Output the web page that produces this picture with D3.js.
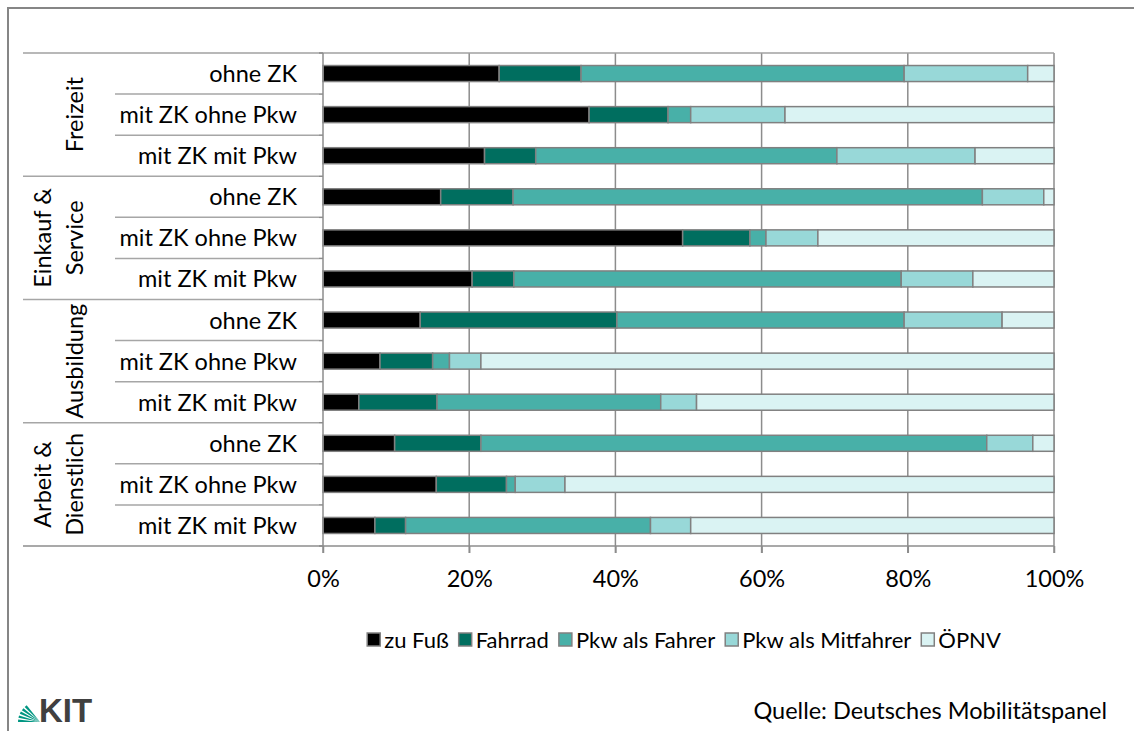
<!DOCTYPE html>
<html>
<head>
<meta charset="utf-8">
<script src="https://cdn.jsdelivr.net/npm/d3@7"></script>
<style>
  body { margin: 0; background: #fff; }
  svg { display: block; font-family: Lato, "Open Sans", sans-serif; }
</style>
</head>
<body>
<div class="canvas"></div>
<script>
// Chart size and plot area
const width = 1134;
const height = 731;
const plotLeft = 323;
const plotRight = 1054;
const plotTop = 53;
const plotBottom = 546;
const fontSize = 23.5;

// categories
const groups = [["Freizeit"], ["Einkauf &", "Service"], ["Ausbildung"], ["Arbeit &", "Dienstlich"]];
const subLabels = ["ohne ZK", "mit ZK ohne Pkw", "mit ZK mit Pkw"];
const modes = ["zu Fuß", "Fahrrad", "Pkw als Fahrer", "Pkw als Mitfahrer", "ÖPNV"];
const xTicks = [0, 20, 40, 60, 80, 100];

// series values in %, rows top to bottom
const zuFuss       = [24.1, 36.4, 22.1, 16.1, 49.2, 20.4, 13.3, 7.8, 4.9, 9.8, 15.5, 7.1];
const fahrrad      = [11.2, 10.8, 7.0, 9.9, 9.2, 5.7, 26.9, 7.2, 10.7, 11.8, 9.6, 4.2];
const pkwFahrer    = [44.2, 3.1, 41.2, 64.2, 2.2, 53.0, 39.3, 2.3, 30.6, 69.2, 1.2, 33.5];
const pkwMitfahrer = [16.9, 12.9, 18.9, 8.4, 7.1, 9.8, 13.4, 4.3, 4.9, 6.3, 6.8, 5.5];
const oepnv        = [3.6, 36.8, 10.8, 1.4, 32.3, 11.1, 7.1, 78.4, 48.9, 2.9, 66.9, 49.7];

const colors = ["#000000", "#006e5f", "#48b0a8", "#98d8d8", "#daf3f3"];
const series = [zuFuss, fahrrad, pkwFahrer, pkwMitfahrer, oepnv];

// table rows for d3.stack
const rows = zuFuss.map((_, i) => {
  const r = { idx: i };
  modes.forEach((m, k) => r[m] = series[k][i]);
  return r;
});
const stacked = d3.stack().keys(modes)(rows);

const x = d3.scaleLinear().domain([0, 100]).range([plotLeft, plotRight]);
const y = d3.scaleBand().domain(d3.range(rows.length)).range([plotTop, plotBottom]).paddingInner(0.61).paddingOuter(0.305);
const step = y.step();

const svg = d3.select(".canvas").append("svg")
  .attr("width", width)
  .attr("height", height);

// outer frame
svg.append("rect")
  .attr("x", 8).attr("y", 8)
  .attr("width", width + 20).attr("height", height + 20)
  .attr("fill", "none").attr("stroke", "#868686").attr("stroke-width", 2);

// vertical gridlines
svg.append("g")
  .selectAll("line")
  .data(xTicks.slice(1))
  .join("line")
    .attr("x1", d => x(d)).attr("x2", d => x(d))
    .attr("y1", plotTop).attr("y2", plotBottom + 7)
    .attr("stroke", "#8c8c8c").attr("stroke-width", 1.5);

// top border of plot
svg.append("line")
  .attr("x1", 23).attr("x2", plotRight)
  .attr("y1", plotTop).attr("y2", plotTop)
  .attr("stroke", "#a0a0a0").attr("stroke-width", 1.5);

// category table lines
const tableLines = svg.append("g").attr("stroke", "#a6a6a6").attr("stroke-width", 1.5);
d3.range(1, rows.length).forEach(i => {
  const yy = plotTop + i * step;
  const isGroup = i % 3 === 0;
  tableLines.append("line")
    .attr("x1", isGroup ? 23 : 115).attr("x2", plotLeft - 4)
    .attr("y1", yy).attr("y2", yy);
});

// bars
svg.append("g")
  .selectAll("g")
  .data(stacked)
  .join("g")
    .attr("fill", (d, i) => colors[i])
  .selectAll("rect")
  .data(d => d)
  .join("rect")
    .attr("x", d => x(d[0]))
    .attr("y", d => y(d.data.idx))
    .attr("width", d => x(d[1]) - x(d[0]))
    .attr("height", y.bandwidth())
    .attr("stroke", "#808080")
    .attr("stroke-width", 1.5);

// y axis with ticks at row boundaries
const gy = svg.append("g").attr("stroke", "#8c8c8c").attr("stroke-width", 1.5);
gy.append("line")
  .attr("x1", plotLeft).attr("x2", plotLeft)
  .attr("y1", plotTop).attr("y2", plotBottom + 7);
d3.range(0, rows.length + 1).forEach(i => {
  gy.append("line")
    .attr("x1", plotLeft - 4).attr("x2", plotLeft)
    .attr("y1", plotTop + i * step).attr("y2", plotTop + i * step);
});

// x axis
const gx = svg.append("g")
  .attr("transform", `translate(0, ${plotBottom})`)
  .call(d3.axisBottom(x).tickValues(xTicks).tickFormat(d => d + "%").tickSize(7).tickPadding(17));
gx.select(".domain").remove();
gx.selectAll(".tick line").attr("stroke", "#8c8c8c").attr("stroke-width", 1.5);
gx.selectAll(".tick text")
  .attr("font-family", "Lato, sans-serif")
  .attr("font-size", fontSize)
  .attr("fill", "#000");
svg.append("line")
  .attr("x1", 23).attr("x2", plotRight)
  .attr("y1", plotBottom).attr("y2", plotBottom)
  .attr("stroke", "#8c8c8c").attr("stroke-width", 1.5);

// row labels
svg.append("g")
  .selectAll("text")
  .data(rows)
  .join("text")
    .attr("x", 297)
    .attr("y", d => y(d.idx) + y.bandwidth() / 2)
    .attr("dy", "0.36em")
    .attr("text-anchor", "end")
    .attr("font-size", fontSize)
    .text(d => subLabels[d.idx % 3]);

// group labels (rotated)
groups.forEach((g, gi) => {
  const cy = plotTop + (gi * 3 + 1.5) * step;
  const t = svg.append("text")
    .attr("transform", `translate(${g.length === 1 ? 83 : 51}, ${cy}) rotate(-90)`)
    .attr("text-anchor", "middle")
    .attr("font-size", fontSize);
  g.forEach((line, li) => {
    t.append("tspan").attr("x", 0).attr("dy", li === 0 ? 0 : 32).text(line);
  });
});

// legend
const legend = svg.append("g");
let lx = 0;
modes.forEach((m, k) => {
  const item = legend.append("g");
  item.append("rect")
    .attr("x", 0).attr("y", -7)
    .attr("width", 13).attr("height", 13)
    .attr("fill", colors[k])
    .attr("stroke", "#808080").attr("stroke-width", 1.5);
  const txt = item.append("text")
    .attr("x", 17).attr("dy", "0.36em")
    .attr("font-size", 22)
    .text(m);
  const w = 17 + txt.node().getComputedTextLength();
  item.attr("transform", `translate(${lx}, 0)`);
  lx += w + 10;
});
const legendW = lx - 10;
legend.attr("transform", `translate(${684 - legendW / 2}, 640)`);

// source note
svg.append("text")
  .attr("x", 1107).attr("y", 719)
  .attr("text-anchor", "end")
  .attr("font-size", fontSize)
  .text("Quelle: Deutsches Mobilitätspanel");

// KIT logo (simplified)
const logo = svg.append("g").attr("transform", "translate(18, 722)");
[0, 1, 2, 3, 4].forEach(i => {
  const a0 = Math.PI + i * 0.2;
  const a1 = a0 + 0.12;
  const r = 22;
  logo.append("path")
    .attr("d", `M ${r} 0 L ${r + Math.cos(a0) * r} ${Math.sin(a0) * r * 0.95} L ${r + Math.cos(a1) * r} ${Math.sin(a1) * r * 0.95} Z`)
    .attr("fill", "#009682");
});
logo.append("text")
  .attr("x", 21).attr("y", 0)
  .attr("font-family", "Liberation Sans Narrow, Liberation Sans, sans-serif")
  .attr("font-weight", "bold")
  .attr("font-size", 33)
  .attr("fill", "#404040")
  .text("KIT");
</script>
</body>
</html>
